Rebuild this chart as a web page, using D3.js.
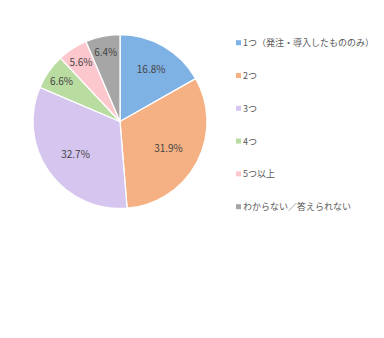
<!DOCTYPE html>
<html><head><meta charset="utf-8">
<script src="https://cdn.jsdelivr.net/npm/d3@7"></script>
<style>body{margin:0;background:#fff;}svg{display:block;}</style>
</head><body>
<svg id="chart" width="384" height="338"></svg>
<script>
const categories = ["1つ（発注・導入したもののみ）","2つ","3つ","4つ","5つ以上","わからない／答えられない"];
const values = [16.8, 31.9, 32.7, 6.6, 5.6, 6.4];
const colors = ["#7fb2e4","#f5b183","#d5c5ef","#b9dca0","#fcc8ce","#a6a6a6"];

const svg = d3.select("#chart");
const cx = 120, cy = 121.5, R = 87;
const fontFam = "'Noto Sans CJK JP','Noto Sans',sans-serif";

const pie = d3.pie().sort(null).value(d => d.v);
const data = pie(values.map((v,i)=>({v, c:categories[i], col:colors[i]})));
const arc = d3.arc().innerRadius(0).outerRadius(R);

const g = svg.append("g").attr("transform",`translate(${cx},${cy})`);
g.selectAll("path").data(data).join("path")
  .attr("d", arc)
  .attr("fill", d=>d.data.col)
  .attr("stroke","#fff").attr("stroke-width",1.3);

g.selectAll("text").data(data).join("text")
  .attr("transform", d => {
    const r = d.data.v < 10 ? R*0.82 : (d.data.v < 20 ? R*0.71 : R*0.63);
    const a = (d.startAngle + d.endAngle)/2;
    return `translate(${Math.sin(a)*r},${-Math.cos(a)*r})`;
  })
  .attr("text-anchor","middle").attr("dominant-baseline","central")
  .attr("font-family",fontFam).attr("font-size","10px").attr("fill","#444")
  .text(d => d3.format(".1f")(d.data.v) + "%");

const legendY = d3.scalePoint().domain(categories).range([42.7, 206.7]);
const lg = svg.append("g");
const items = lg.selectAll("g").data(categories).join("g")
  .attr("transform", d => `translate(236,${legendY(d)})`);
items.append("rect").attr("x",0).attr("y",-2.5).attr("width",5).attr("height",5)
  .attr("fill",(d,i)=>colors[i]);
items.append("text").attr("x",7).attr("y",0).attr("dominant-baseline","central")
  .attr("font-family",fontFam).attr("font-size","9px").attr("fill","#595959")
  .text(d=>d);
</script>
</body></html>
